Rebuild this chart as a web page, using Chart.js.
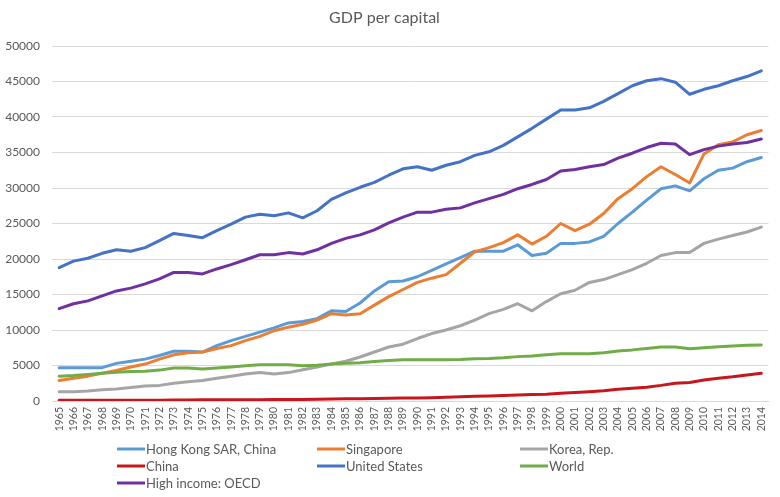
<!DOCTYPE html>
<html>
<head>
<meta charset="utf-8">
<script src="https://cdn.jsdelivr.net/npm/chart.js@4.4.1/dist/chart.umd.min.js"></script>
<style>
  html, body { margin: 0; padding: 0; background: #ffffff; }
  #wrap { position: relative; width: 780px; height: 497px; }
</style>
</head>
<body>
<div id="wrap"><canvas id="c" width="780" height="497"></canvas></div>
<script>
const chartTitle = "GDP per capital";
const years = [];
for (let y = 1965; y <= 2014; y++) years.push(String(y));

const seriesNames = ["Hong Kong SAR, China", "Singapore", "Korea, Rep.", "China", "United States", "World", "High income: OECD"];
const seriesColors = ["#5B9BD5", "#ED7D31", "#A5A5A5", "#C8161D", "#4472C4", "#70AD47", "#7030A0"];

const hongKong = [4700,4700,4700,4700,5300,5600,5900,6400,7000,7000,6900,7800,8500,9100,9700,10300,11000,11200,11600,12700,12600,13800,15500,16800,16900,17500,18400,19300,20200,21100,21100,21100,22000,20500,20800,22200,22200,22400,23200,25000,26600,28300,29900,30300,29600,31300,32500,32800,33700,34300];
const singapore = [2900,3200,3500,3900,4300,4800,5200,5900,6500,6800,6900,7400,7800,8500,9100,9900,10400,10800,11400,12300,12100,12300,13500,14700,15700,16700,17300,17800,19400,21000,21600,22300,23400,22100,23200,25000,24000,24900,26400,28500,29900,31600,33000,31900,30700,34800,36100,36500,37500,38100];
const korea = [1300,1300,1400,1600,1700,1900,2100,2200,2500,2700,2900,3200,3500,3800,4000,3800,4000,4400,4800,5200,5600,6200,6900,7600,8000,8800,9500,10000,10600,11400,12300,12900,13700,12700,14000,15100,15600,16700,17100,17800,18500,19400,20500,20900,20900,22200,22800,23300,23800,24500];
const china = [110,110,110,110,110,120,120,120,150,150,160,160,170,180,190,200,210,220,240,280,300,320,360,400,410,420,460,520,590,660,720,780,850,900,960,1080,1180,1300,1450,1650,1780,1950,2200,2500,2600,2950,3200,3400,3650,3900];
const unitedStates = [18800,19700,20100,20800,21300,21100,21600,22600,23600,23300,23000,24000,24900,25900,26300,26100,26500,25800,26800,28400,29300,30100,30800,31800,32700,33000,32500,33200,33700,34600,35100,36000,37200,38400,39700,41000,41000,41300,42200,43300,44400,45100,45400,44900,43200,43900,44400,45100,45700,46500];
const world = [3500,3600,3750,3900,4050,4150,4200,4350,4650,4650,4500,4650,4800,4950,5100,5100,5100,4950,5050,5200,5300,5400,5550,5700,5800,5800,5800,5800,5850,5950,6000,6100,6250,6350,6500,6650,6650,6650,6800,7050,7200,7400,7600,7600,7350,7500,7650,7750,7850,7900];
const highIncomeOECD = [13000,13700,14100,14800,15500,15900,16500,17200,18100,18100,17900,18600,19200,19900,20600,20600,20900,20700,21300,22200,22900,23400,24100,25100,25900,26600,26600,27000,27200,27900,28500,29100,29900,30500,31200,32400,32600,33000,33300,34200,34900,35700,36300,36200,34700,35400,35900,36200,36400,36900];

const yTickMin = 0, yTickMax = 50000, yTickStep = 5000;

const allSeries = [hongKong, singapore, korea, china, unitedStates, world, highIncomeOECD];
const FONT = "Lato, 'Open Sans', sans-serif";
const TEXT = "#595959";

const datasets = allSeries.map((d, i) => ({
  label: seriesNames[i],
  data: d,
  borderColor: seriesColors[i],
  backgroundColor: seriesColors[i],
  borderWidth: 3,
  pointRadius: 0,
  pointHoverRadius: 0,
  tension: 0,
  fill: false,
  borderCapStyle: 'round',
  borderJoinStyle: 'round',
  order: allSeries.length - i
}));

const gridLegend = {
  id: 'gridLegend',
  afterDraw(chart) {
    const ctx = chart.ctx;
    const colX = [117, 317, 520];
    const rowY = [449, 466, 483];
    ctx.save();
    ctx.font = "13px " + FONT;
    ctx.textBaseline = 'middle';
    ctx.textAlign = 'left';
    seriesNames.forEach((name, i) => {
      const col = i % 3, row = Math.floor(i / 3);
      const x = colX[col], y = rowY[row];
      ctx.strokeStyle = seriesColors[i];
      ctx.lineWidth = 3;
      ctx.lineCap = 'butt';
      ctx.beginPath();
      ctx.moveTo(x, y);
      ctx.lineTo(x + 28, y);
      ctx.stroke();
      ctx.fillStyle = TEXT;
      ctx.fillText(name, x + 29, y + 0.5);
    });
    ctx.restore();
  }
};

new Chart(document.getElementById('c'), {
  type: 'line',
  data: { labels: years, datasets },
  plugins: [gridLegend],
  options: {
    responsive: false,
    animation: false,
    devicePixelRatio: 1,
    layout: { padding: { left: 0, right: 11, top: 0, bottom: 60 } },
    plugins: {
      legend: { display: false },
      tooltip: { enabled: false },
      title: {
        display: true,
        text: chartTitle,
        color: TEXT,
        font: { family: FONT, size: 16, weight: 'normal', lineHeight: 1.2 },
        padding: { top: 8, bottom: 18.8 }
      }
    },
    scales: {
      x: {
        offset: true,
        grid: { display: false, drawTicks: false, offset: true },
        border: { display: true, color: '#D9D9D9', width: 1 },
        ticks: {
          autoSkip: false,
          maxRotation: 90,
          minRotation: 90,
          padding: 6,
          color: TEXT,
          font: { family: FONT, size: 10.5 }
        },
        afterFit(scale) { scale.height = 36; }
      },
      y: {
        min: yTickMin,
        max: yTickMax,
        grid: { color: '#D9D9D9', lineWidth: 1, drawTicks: false },
        border: { display: false },
        ticks: {
          stepSize: yTickStep,
          padding: 12,
          color: TEXT,
          format: { useGrouping: false },
          font: { family: FONT, size: 12 }
        },
        afterFit(scale) { scale.width = 52; }
      }
    }
  }
});
</script>
</body>
</html>
